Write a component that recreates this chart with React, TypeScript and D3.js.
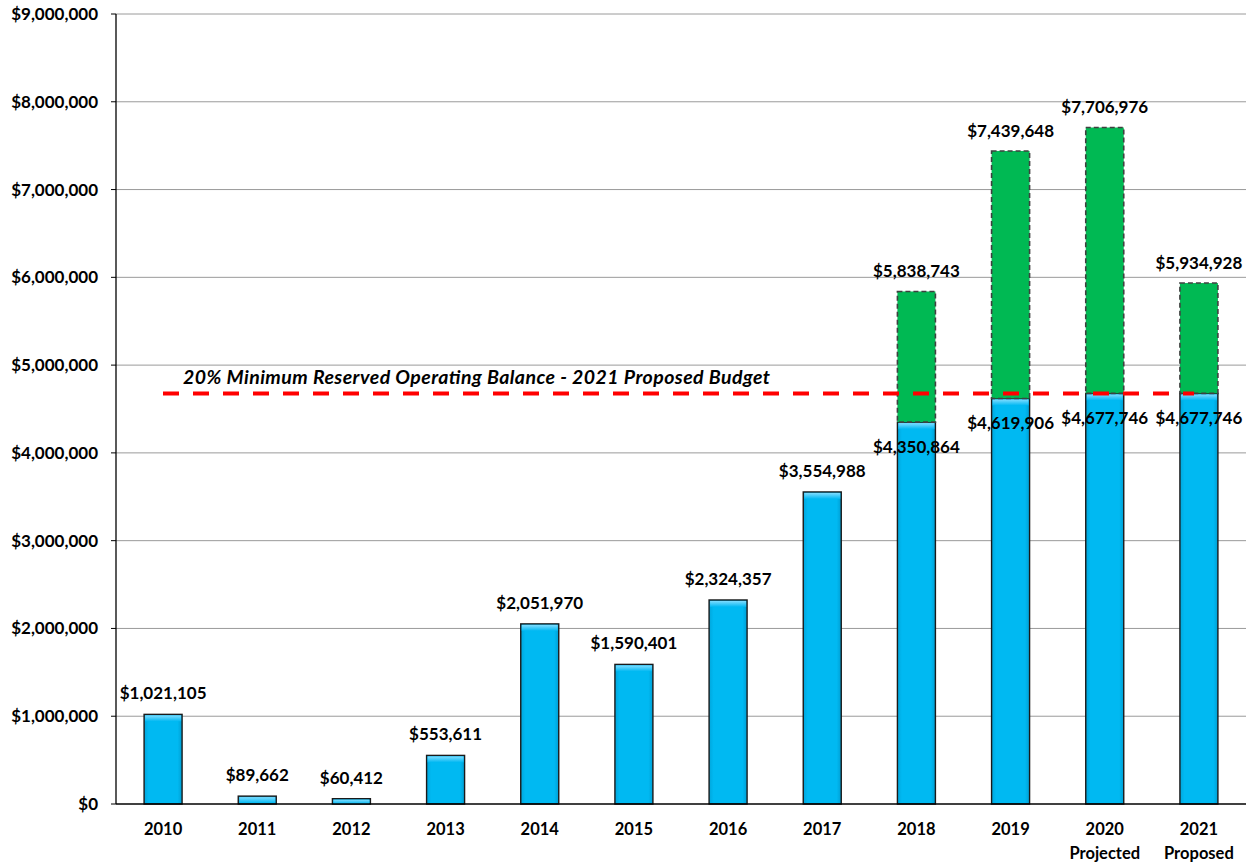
import React from "react";
import * as d3 from "d3";

const categories = ["2010", "2011", "2012", "2013", "2014", "2015", "2016", "2017", "2018", "2019", "2020", "2021"];
const subLabels = ["", "", "", "", "", "", "", "", "", "", "Projected", "Proposed"];
const baseValues = [1021105, 89662, 60412, 553611, 2051970, 1590401, 2324357, 3554988, 4350864, 4619906, 4677746, 4677746];
const totalValues = [null, null, null, null, null, null, null, null, 5838743, 7439648, 7706976, 5934928];
const reserveValue = 4677746;
const reserveLabel = "20% Minimum Reserved Operating Balance - 2021 Proposed Budget";
const yTicks = [0, 1000000, 2000000, 3000000, 4000000, 5000000, 6000000, 7000000, 8000000, 9000000];

const W = 1255;
const H = 866;
const left = 116;
const right = 1246;
const top = 14;
const bottom = 804;
const FONT = "Lato, 'Open Sans', sans-serif";

export default function App() {
  const x = d3.scaleBand<string>().domain(categories).range([left, right]).paddingInner(0).paddingOuter(0);
  const y = d3.scaleLinear().domain([0, 9000000]).range([bottom, top]);
  const bw = 38;
  const fmt = (v: number) => "$" + d3.format(",")(v);

  return (
    <svg width={W} height={H} style={{ position: "absolute", left: 0, top: 0 }} fontFamily={FONT}>
      <defs>
        <linearGradient id="blueTop" x1="0" y1="0" x2="0" y2="1">
          <stop offset="0" stopColor="#7fdcff" />
          <stop offset="1" stopColor="#00b8f2" />
        </linearGradient>
        <linearGradient id="blueSide" x1="0" y1="0" x2="1" y2="0">
          <stop offset="0" stopColor="#00a6dc" />
          <stop offset="0.12" stopColor="#00b9f2" />
          <stop offset="0.88" stopColor="#00b9f2" />
          <stop offset="1" stopColor="#009fd4" />
        </linearGradient>
      </defs>
      <rect width={W} height={H} fill="#fff" />
      {yTicks.map((t) => (
        <g key={t}>
          {t > 0 && <line x1={left} x2={right} y1={y(t)} y2={y(t)} stroke="#9a9a9a" strokeWidth={1} />}
          <line x1={left - 5} x2={left} y1={y(t)} y2={y(t)} stroke="#000" strokeWidth={1} />
          <text x={98} y={y(t) + 6} textAnchor="end" fontSize={17} fontWeight="bold">{fmt(t)}</text>
        </g>
      ))}
      {categories.map((c, i) => {
        const cx = x(c)! + x.bandwidth() / 2;
        const v = baseValues[i];
        const yt = y(v);
        const h = bottom - yt;
        const tot = totalValues[i];
        return (
          <g key={c}>
            <rect x={cx - bw / 2} y={yt} width={bw} height={h} fill="url(#blueSide)" stroke="#1a1a1a" strokeWidth={1.4} />
            <rect x={cx - bw / 2 + 1} y={yt + 1} width={bw - 2} height={Math.min(6, h - 1)} fill="url(#blueTop)" />
            {tot != null && (
              <rect x={cx - bw / 2} y={y(tot)} width={bw} height={y(v) - y(tot)} fill="#00b953" stroke="#404040" strokeWidth={1.6} strokeDasharray="5,3" />
            )}
          </g>
        );
      })}
      <line x1={left} x2={left} y1={top} y2={bottom} stroke="#000" strokeWidth={1.3} />
      <line x1={left} x2={right} y1={bottom} y2={bottom} stroke="#000" strokeWidth={1.3} />
      <line x1={163} x2={1194} y1={y(reserveValue)} y2={y(reserveValue)} stroke="#ff0000" strokeWidth={4} strokeDasharray="16,14" />
      <text x={183} y={384} fontSize={19.5} fontWeight="bold" fontStyle="italic" textLength={587} lengthAdjust="spacing">{reserveLabel}</text>
      {categories.map((c, i) => {
        const cx = x(c)! + x.bandwidth() / 2;
        const v = baseValues[i];
        const tot = totalValues[i];
        const below = tot != null;
        const ly = below ? y(v) + 31 : y(v) - 15;
        return (
          <g key={"l" + c}>
            <text x={cx} y={ly} textAnchor="middle" fontSize={17} fontWeight="bold">{fmt(v)}</text>
            {tot != null && (
              <text x={cx} y={y(tot) - 14} textAnchor="middle" fontSize={17} fontWeight="bold">{fmt(tot)}</text>
            )}
            <text x={cx} y={835} textAnchor="middle" fontSize={16.5} fontWeight="bold">{c}</text>
            {subLabels[i] && (
              <text x={cx} y={859} textAnchor="middle" fontSize={16.5} fontWeight="bold">{subLabels[i]}</text>
            )}
          </g>
        );
      })}
    </svg>
  );
}
